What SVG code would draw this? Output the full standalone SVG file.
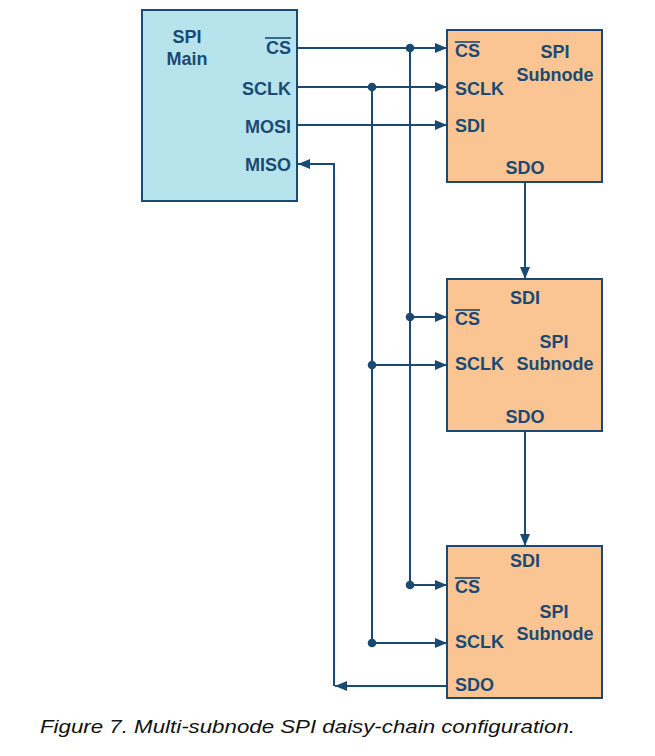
<svg xmlns="http://www.w3.org/2000/svg" width="655" height="756" viewBox="0 0 655 756">
<defs>
<marker id="ah" viewBox="0 0 12 10" refX="12" refY="5" markerWidth="12" markerHeight="10" markerUnits="userSpaceOnUse" orient="auto">
<path d="M0,0 L12,5 L0,10 Z" fill="#1a4a73"/>
</marker>
<style>
.box{stroke:#1a4a73;stroke-width:2}
.main{fill:#b7e4ec}
.sub{fill:#fbc593}
.lbl{font-family:"Liberation Sans",Arial,sans-serif;font-weight:bold;font-size:18px;fill:#1a4a73}
.mid{text-anchor:middle}
.end{text-anchor:end}
.w{fill:none;stroke:#1a4a73;stroke-width:2}
.arr{marker-end:url(#ah)}
.dot{fill:#1a4a73}
.ol{stroke:#1a4a73;stroke-width:1.6}
.cap{font-family:"Liberation Sans",Arial,sans-serif;font-style:italic;font-size:19px;fill:#111}
</style>
</defs>
<g id="connectors">
<path class="w arr" d="M297,48 H447"/>
<path class="w arr" d="M297,87 H447"/>
<path class="w arr" d="M297,125 H447"/>
<path class="w" d="M410,48 V585"/>
<path class="w" d="M372,87 V643"/>
<path class="w arr" d="M410,317 H447"/>
<path class="w arr" d="M372,365 H447"/>
<path class="w arr" d="M410,585 H447"/>
<path class="w arr" d="M372,643 H447"/>
<path class="w arr" d="M525,182 V279"/>
<path class="w arr" d="M525,431 V546"/>
<path class="w arr" d="M447,686 H335"/>
<path class="w arr" d="M334,686 V164 H298"/>
<circle class="dot" cx="410" cy="48" r="4.3"/>
<circle class="dot" cx="372" cy="87" r="4.3"/>
<circle class="dot" cx="410" cy="317" r="4.3"/>
<circle class="dot" cx="372" cy="365" r="4.3"/>
<circle class="dot" cx="410" cy="585" r="4.3"/>
<circle class="dot" cx="372" cy="643" r="4.3"/>
</g>
<g id="spi-main">
<rect class="box main" x="142" y="10" width="155" height="191"/>
<text class="lbl mid" x="187" y="43">SPI</text>
<text class="lbl mid" x="187" y="65">Main</text>
<text class="lbl end" x="291" y="54">CS</text>
<line class="ol" x1="265" y1="38" x2="291" y2="38"/>
<text class="lbl end" x="291" y="95">SCLK</text>
<text class="lbl end" x="291" y="133">MOSI</text>
<text class="lbl end" x="291" y="171">MISO</text>
</g>
<g id="subnode-1">
<rect class="box sub" x="447" y="30" width="155" height="152"/>
<text class="lbl" x="455" y="57">CS</text>
<line class="ol" x1="455" y1="42" x2="480" y2="42"/>
<text class="lbl mid" x="555" y="58">SPI</text>
<text class="lbl mid" x="555" y="81">Subnode</text>
<text class="lbl" x="455" y="95">SCLK</text>
<text class="lbl" x="455" y="132">SDI</text>
<text class="lbl mid" x="525" y="174">SDO</text>
</g>
<g id="subnode-2">
<rect class="box sub" x="447" y="279" width="155" height="152"/>
<text class="lbl mid" x="525" y="304">SDI</text>
<text class="lbl" x="455" y="325">CS</text>
<line class="ol" x1="455" y1="310" x2="480" y2="310"/>
<text class="lbl mid" x="554" y="348">SPI</text>
<text class="lbl" x="455" y="370">SCLK</text>
<text class="lbl mid" x="555" y="370">Subnode</text>
<text class="lbl mid" x="525" y="423">SDO</text>
</g>
<g id="subnode-3">
<rect class="box sub" x="447" y="546" width="155" height="152"/>
<text class="lbl mid" x="525" y="567">SDI</text>
<text class="lbl" x="455" y="593">CS</text>
<line class="ol" x1="455" y1="578" x2="480" y2="578"/>
<text class="lbl mid" x="554" y="618">SPI</text>
<text class="lbl mid" x="555" y="640">Subnode</text>
<text class="lbl" x="455" y="648">SCLK</text>
<text class="lbl" x="455" y="691">SDO</text>
</g>
<text class="cap" x="40" y="733" textLength="535" lengthAdjust="spacingAndGlyphs">Figure 7. Multi-subnode SPI daisy-chain configuration.</text>
</svg>
